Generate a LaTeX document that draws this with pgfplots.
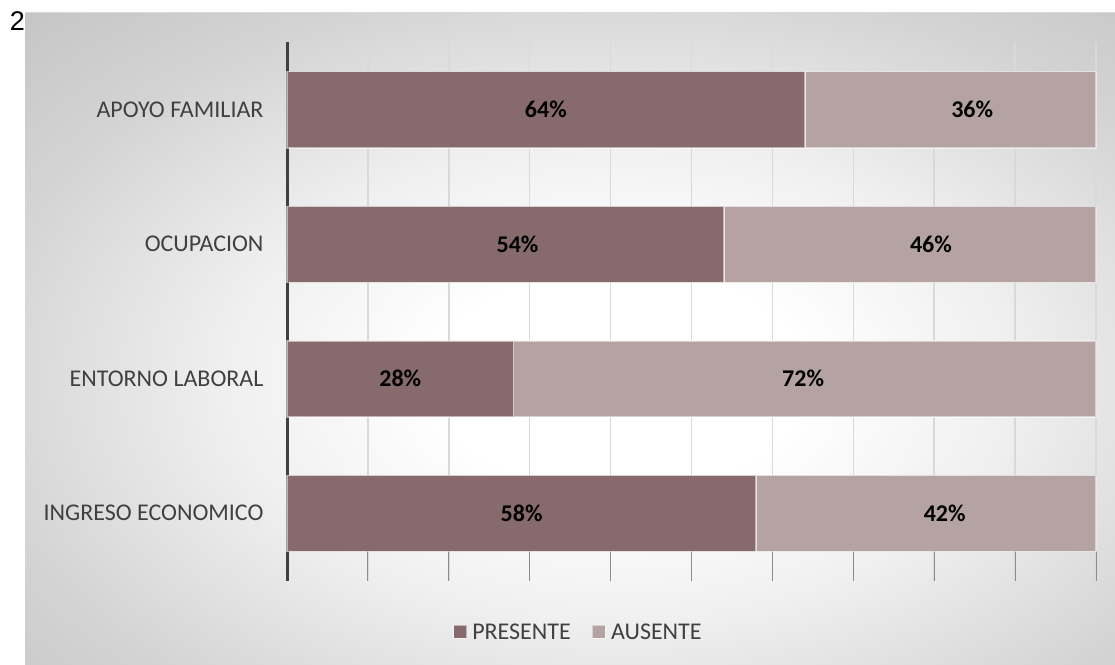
\documentclass[border=0pt]{standalone}
\usepackage{pgfplots}
\pgfplotsset{compat=1.18}
\usepackage{fontspec}
\setmainfont{Carlito}
\newfontfamily\arialfont{Liberation Sans}
\definecolor{pres}{RGB}{135,106,107}
\definecolor{aus}{RGB}{181,163,163}
\definecolor{txt}{RGB}{64,64,64}
\definecolor{gridc}{RGB}{217,217,217}
\definecolor{tickc}{RGB}{140,140,140}
\pgfdeclareradialshading{bgshade}{\pgfpoint{0bp}{0bp}}{rgb(0bp)=(1,1,1); rgb(7bp)=(1,1,1); rgb(15bp)=(0.94,0.94,0.94); rgb(25bp)=(0.83,0.83,0.83); rgb(33bp)=(0.77,0.77,0.77); rgb(50bp)=(0.75,0.75,0.75)}
\begin{document}
\begin{tikzpicture}[x=1pt,y=1pt]
\useasboundingbox (0,0) rectangle (1115,664);
\begin{scope}
\clip (25,0) rectangle (1115,651);
\shade[shading=bgshade] (-30,-116) rectangle (1270,684);
\end{scope}
\draw[gridc, line width=1pt] (25,651) -- (1115,651);
\node[font=\arialfont\fontsize{27}{30}\selectfont, inner sep=0pt, anchor=base] at (17.5,633) {2};

\begin{axis}[
  at={(287pt,83.5pt)}, anchor=south west, scale only axis,
  width=809pt, height=538pt,
  xbar stacked, bar width=76pt,
  xmin=0, xmax=100, ymin=-0.5, ymax=3.5,
  xtick={0,10,...,100}, xticklabel=\empty,
  xmajorgrids, major grid style={draw=gridc, line width=1.5pt},
  xtick pos=left, tick align=inside, major tick length=29pt,
  x tick style={draw=tickc, line width=1pt},
  ytick={0,1,2,3},
  yticklabels={INGRESO ECONOMICO, ENTORNO LABORAL, OCUPACION, APOYO FAMILIAR},
  y tick style={draw=none},
  yticklabel style={font=\fontsize{24}{28}\selectfont, text=txt, xshift=-20pt},
  axis line style={draw=none},
  clip=false,
  legend image code/.code={\draw[#1] (0pt,-6.5pt) rectangle (13pt,6.5pt);},
  legend style={at={(0.362,-0.0957)}, anchor=center, draw=none, fill=none,
    legend columns=2, font=\fontsize{24}{28}\selectfont, text=txt,
    nodes={inner sep=5pt},
    /tikz/every even column/.append style={column sep=16pt}},
]
\addplot[fill=pres, draw=white, draw opacity=0.5, line width=1.5pt,
  legend image code/.code={\draw[fill=pres, draw=white, draw opacity=0.5, line width=1.2pt] (0pt,-6.5pt) rectangle (13pt,6.5pt);}]
  coordinates {(58,0) (28,1) (54,2) (64,3)};
\addplot[fill=aus, draw=white, draw opacity=0.5, line width=1.5pt,
  legend image code/.code={\draw[fill=aus, draw=white, draw opacity=0.5, line width=1.2pt] (0pt,-6.5pt) rectangle (13pt,6.5pt);}]
  coordinates {(42,0) (72,1) (46,2) (36,3)};
\legend{PRESENTE, AUSENTE}
\draw[txt, line width=3pt] (rel axis cs:0,0) -- (rel axis cs:0,1);
\end{axis}

\begin{axis}[
  at={(287pt,83.5pt)}, anchor=south west, scale only axis,
  width=809pt, height=538pt,
  xmin=0, xmax=100, ymin=-0.5, ymax=3.5,
  hide axis, clip=false,
]
\addplot[draw=none, mark=none, point meta=explicit symbolic,
  nodes near coords,
  every node near coord/.style={anchor=center, font=\bfseries\fontsize{24}{28}\selectfont, text=black}]
  coordinates {(29,0) [58\%] (81.3,0) [42\%]
               (14,1) [28\%] (63.8,1) [72\%]
               (28.5,2) [54\%] (79.6,2) [46\%]
               (32,3) [64\%] (84.7,3) [36\%]};
\end{axis}
\end{tikzpicture}
\end{document}
